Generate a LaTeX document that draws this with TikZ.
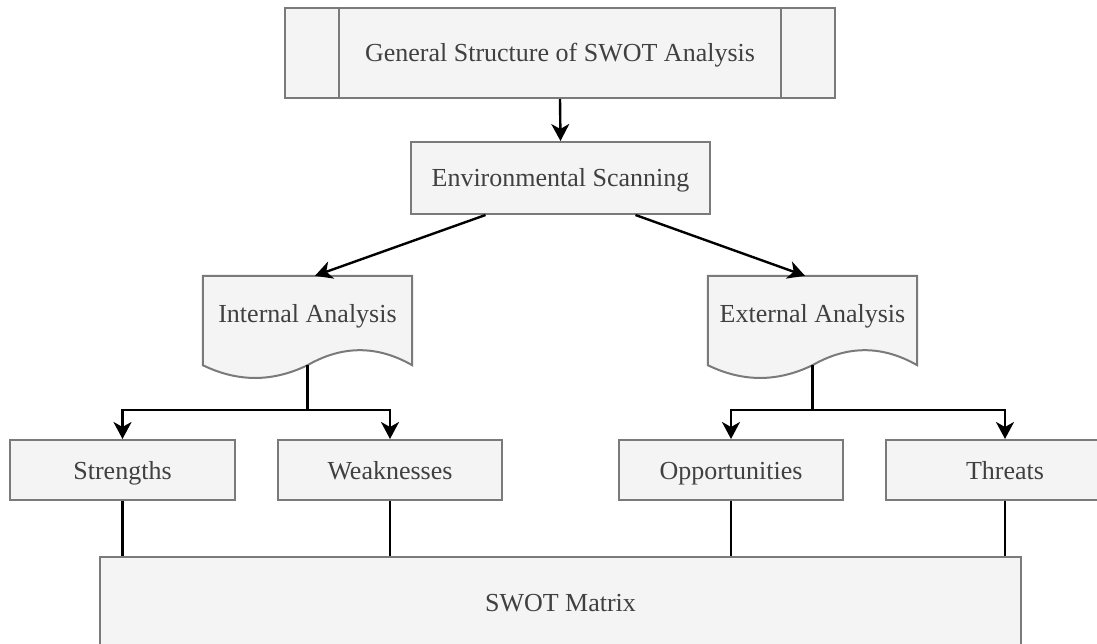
\documentclass[tikz,border=0pt]{standalone}
\usepackage{fontspec}
\setmainfont{Liberation Serif}
\usetikzlibrary{arrows.meta,calc}
\definecolor{boxfill}{HTML}{F4F4F4}
\definecolor{boxline}{HTML}{7A7A7A}
\definecolor{txt}{HTML}{404040}
\begin{document}
\begin{tikzpicture}[x=1pt,y=-1pt,
  box/.style={draw=boxline, fill=boxfill, line width=2pt, text=txt,
    font=\fontsize{26}{30}\selectfont, inner sep=0pt, anchor=center,
    text height=20pt, text depth=2pt},
  frame/.style={inner sep=0pt, minimum width=209pt, minimum height=89pt},
  docshape/.style={draw=boxline, fill=boxfill, line width=2pt},
  lbl/.style={text=txt, font=\fontsize{26}{30}\selectfont, inner sep=0pt,
    text height=20pt, text depth=2pt},
  conn/.style={line width=2.4pt, draw=black},
  arr/.style={conn, -{Stealth[length=17pt,width=18pt,inset=5pt]}}]
\useasboundingbox[clip] (0,0) rectangle (1097,644);
\fill[white] (0,0) rectangle (1097,644);

% title box with side bars
\node[box, minimum width=550pt, minimum height=90pt] (top) at (560,53) {General Structure of SWOT Analysis};
\draw[draw=boxline, line width=2pt] ($(top.north west)+(55,0)$) -- ($(top.south west)+(55,0)$);
\draw[draw=boxline, line width=2pt] ($(top.north east)+(-55,0)$) -- ($(top.south east)+(-55,0)$);

\node[box, minimum width=299pt, minimum height=72pt] (env) at (560.5,178) {Environmental Scanning};

% document shapes
\node[frame] (int) at (307.5,320.5) {};
\path[docshape] (int.north west) -- (int.north east) -- (int.south east)
  .. controls +(-35,-20) and +(35,-20) .. (int.south)
  .. controls +(-35,17) and +(35,17) .. (int.south west) -- cycle;
\node[lbl] (intlbl) at ($(int)+(0,-7.5)$) {Internal Analysis};

\node[frame] (ext) at (812.5,320.5) {};
\path[docshape] (ext.north west) -- (ext.north east) -- (ext.south east)
  .. controls +(-35,-20) and +(35,-20) .. (ext.south)
  .. controls +(-35,17) and +(35,17) .. (ext.south west) -- cycle;
\node[lbl] (extlbl) at ($(ext)+(0,-7.5)$) {External Analysis};

% SWOT boxes
\node[box, minimum width=225pt, minimum height=60pt] (str) at (122.5,470) {Strengths};
\node[box, minimum width=224pt, minimum height=60pt] (weak) at (390,470) {Weaknesses};
\node[box, minimum width=224pt, minimum height=60pt] (opp) at (731,470) {Opportunities};
\node[box, minimum width=238pt, minimum height=60pt] (thr) at (1005,470) {Threats};

\node[box, minimum width=921pt, minimum height=90pt] (swot) at (560.5,602) {SWOT Matrix};

% connectors
\draw[arr] (top.south) -- (env.north);
\draw[arr] ($(env.south)+(-75,0)$) -- ($(int.north)+(7.5,0)$);
\draw[arr] ($(env.south)+(75,0)$) -- ($(ext.north)+(-7.5,0)$);

\coordinate (ij) at ($(int.south)+(0,45)$);
\draw[conn] (int.south) -- (ij);
\draw[arr] (ij) -| (str.north);
\draw[arr] (ij) -| (weak.north);

\coordinate (ej) at ($(ext.south)+(0,45)$);
\draw[conn] (ext.south) -- (ej);
\draw[arr] (ej) -| (opp.north);
\draw[arr] (ej) -| (thr.north);

\draw[conn] (str.south) -- (str.south |- swot.north);
\draw[conn] (weak.south) -- (weak.south |- swot.north);
\draw[conn] (opp.south) -- (opp.south |- swot.north);
\draw[conn] (thr.south) -- (thr.south |- swot.north);
\end{tikzpicture}
\end{document}
